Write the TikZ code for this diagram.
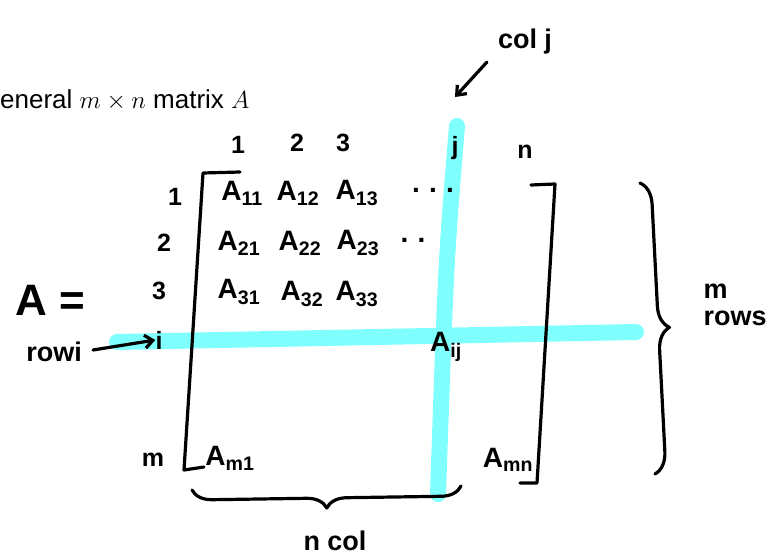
\documentclass[tikz,border=0pt]{standalone}
\usepackage{fontspec}
\setmainfont{Liberation Sans}
\usetikzlibrary{arrows.meta,decorations.pathreplacing}
\definecolor{hl}{RGB}{128,255,255}
\begin{document}
\begin{tikzpicture}[x=1pt,y=-1pt,
  hand/.style={line width=3.2pt, line cap=round, line join=round},
  band/.style={line width=16pt, line cap=round, hl},
  hw/.style={font=\fontsize{28}{30}\selectfont\bfseries, inner sep=0pt},
  num/.style={font=\fontsize{25}{27}\selectfont\bfseries, inner sep=0pt},
  lab/.style={font=\fontsize{27}{27}\selectfont\bfseries, inner sep=0pt},
  ttl/.style={font=\fontsize{26}{28}\selectfont, inner sep=0pt},
  big/.style={font=\fontsize{44}{46}\selectfont\bfseries, inner sep=0pt},
  brc/.style={hand, decorate, decoration={brace, amplitude=#1}},
  harrow/.style={hand, -{Straight Barb[length=8pt,width=13pt]}}]
\useasboundingbox (0,0) rectangle (783,559);

% highlight bands
\coordinate (hL) at (117,342);
\coordinate (hR) at (636,332);
\coordinate (vT) at (457,126);
\coordinate (vB) at (438,494);
\draw[band] (hL) -- (hR);
\draw[band] (vT) .. controls (446,260) .. (vB);

% title
\node[ttl, anchor=base west] (title) at (0,108) {eneral $m\times n$ matrix $A$};

% brackets
\coordinate (lbT1) at (240,172);
\coordinate (lbT) at (203,173);
\coordinate (lbB) at (184,470);
\coordinate (lbB1) at (204,467);
\draw[hand] (lbT1) -- (lbT) -- (lbB) -- (lbB1);
\coordinate (rbT1) at (531,185);
\coordinate (rbT) at (555,184);
\coordinate (rbB) at (537,483);
\coordinate (rbB1) at (520,483);
\draw[hand] (rbT1) -- (rbT) -- (rbB) -- (rbB1);

% column numbers
\node[num] (c1) at (238,145) {1};
\node[num] (c2) at (297,143) {2};
\node[num] (c3) at (343,143) {3};
\node[num] (cj) at (455,148) {j};
\node[num] (cn) at (525,152) {n};

% row numbers
\node[num] (r1) at (175,197) {1};
\node[num] (r2) at (164,243) {2};
\node[num] (r3) at (159,291) {3};
\node[num] (ri) at (159,340) {i};
\node[num] (rm) at (153,460) {m};

% entries
\node[hw] (a11) at (242,193) {A\textsubscript{11}};
\node[hw] (a12) at (298,193) {A\textsubscript{12}};
\node[hw] (a13) at (357,193) {A\textsubscript{13}};
\node[hw] (d1) at (433,190) {.\,\,.\,\,.};
\node[hw] (a21) at (239,243) {A\textsubscript{21}};
\node[hw] (a22) at (300,243) {A\textsubscript{22}};
\node[hw] (a23) at (358,243) {A\textsubscript{23}};
\node[hw] (d2) at (413,240) {.\,\,.};
\node[hw] (a31) at (239,292) {A\textsubscript{31}};
\node[hw] (a32) at (302,294) {A\textsubscript{32}};
\node[hw] (a33) at (357,294) {A\textsubscript{33}};
\node[hw] (aij) at (446,347) {A\textsubscript{ij}};
\node[hw] (am1) at (230,458) {A\textsubscript{m1}};
\node[hw] (amn) at (508,460) {A\textsubscript{mn}};

% left labels
\node[big] (A) at (50,300) {A =};
\node[lab, anchor=east] (rowi) at (82,352) {rowi};
\coordinate (raS) at (93,350);
\draw[harrow] (raS) -- (ri.west);

% col j
\node[lab] (colj) at (525,42) {col j};
\coordinate (caS) at (487,62);
\coordinate (caE) at (455,97);
\draw[harrow] (caS) -- (caE);

% braces
\coordinate (brT) at (640,183);
\coordinate (brB) at (655,474);
\draw[brc=22pt] (brT) -- (brB);
\node[lab, align=left] (mrows) at (735,305) {m\\rows};

\coordinate (bbR) at (461,486);
\coordinate (bbL) at (192,490);
\draw[brc=20pt] (bbR) -- (bbL);
\node[lab] (ncol) at (335,541) {n col};
\end{tikzpicture}
\end{document}
